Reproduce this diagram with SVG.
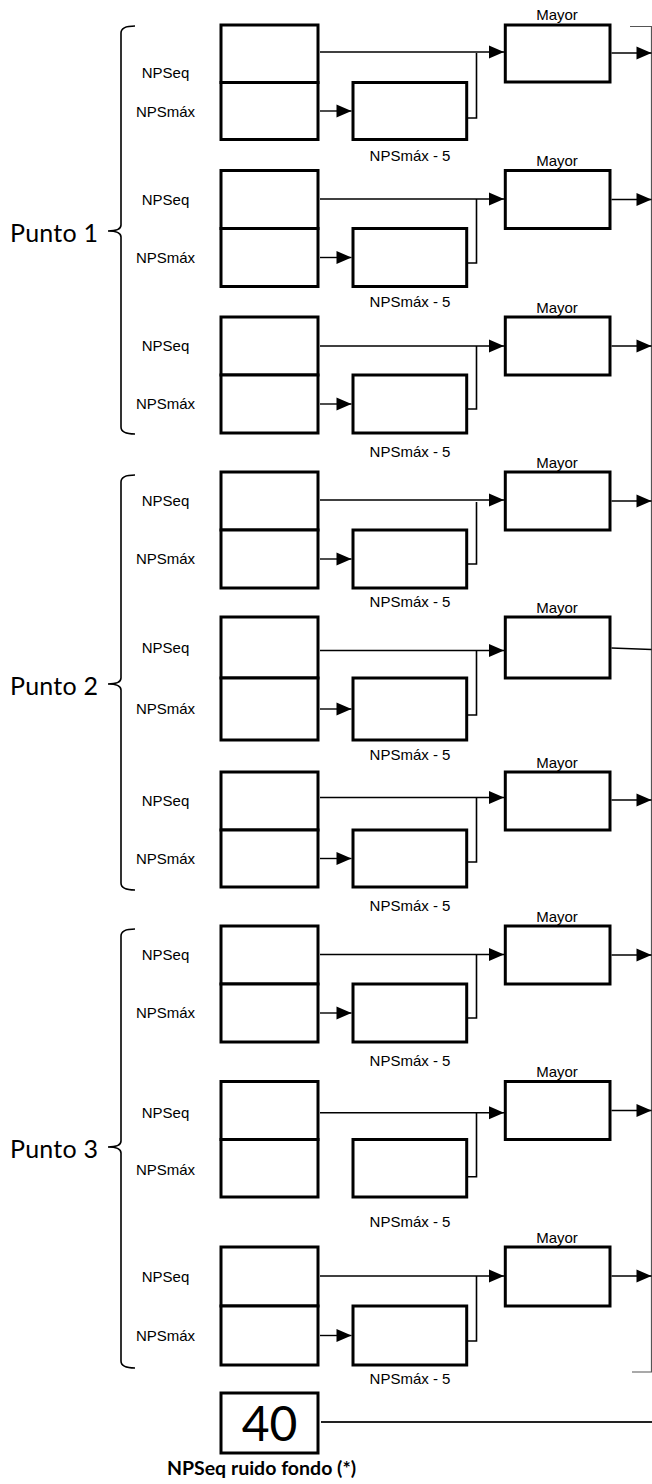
<svg xmlns="http://www.w3.org/2000/svg" width="652" height="1484" viewBox="0 0 652 1484">
<style>
.box{fill:#fff;stroke:#000;stroke-width:3}
.ln{fill:none;stroke:#000;stroke-width:1.4}
.cn{fill:none;stroke:#000;stroke-width:1.6}
.br{fill:none;stroke:#000;stroke-width:1.6}
.lb{font-family:"Liberation Sans",Arial,sans-serif;font-size:15px;fill:#000}
.c{text-anchor:middle}
.pt{font-family:Lato,"Open Sans",sans-serif;font-size:25px;fill:#000}
</style>
<defs>
<marker id="ah" markerUnits="userSpaceOnUse" markerWidth="15" markerHeight="13" refX="15" refY="6.5" orient="auto" overflow="visible">
<path d="M0,0 L15,6.5 L0,13 Z" fill="#000"/>
</marker>
</defs>
<rect width="652" height="1484" fill="#fff"/>

<g id="braces">
<path class="br" d="M135,26 Q121,26 121,33 V225 Q121,231 108,231 Q121,231 121,237 V427 Q121,434 135,434"/>
<path class="br" d="M135,475 Q121,475 121,482 V678 Q121,684 108,684 Q121,684 121,690 V883 Q121,890 135,890"/>
<path class="br" d="M135,929 Q121,929 121,936 V1141 Q121,1147 108,1147 Q121,1147 121,1153 V1361 Q121,1368 135,1368"/>
<path d="M630,26.5 H651.5 V1372 H632" fill="none" stroke="#555" stroke-width="1.2"/>
</g>
<g id="puntos">
<text class="pt" x="10" y="242" textLength="88">Punto 1</text>
<text class="pt" x="10" y="695" textLength="88">Punto 2</text>
<text class="pt" x="10" y="1158" textLength="88">Punto 3</text>
</g>

<!-- Unit 1 -->
<g id="u1-eq"><rect class="box" x="221" y="25" width="97" height="57.5"/><text class="lb c" x="165.5" y="78.3">NPSeq</text></g>
<g id="u1-max"><rect class="box" x="221" y="82.5" width="97" height="57"/><text class="lb c" x="165.5" y="117.3">NPSmáx</text></g>
<g id="u1-max5"><rect class="box" x="353" y="82.5" width="113.7" height="57"/><text class="lb c" x="410" y="161">NPSmáx - 5</text></g>
<g id="u1-mayor"><rect class="box" x="505.3" y="25" width="104.7" height="57"/><text class="lb c" x="557" y="19.5">Mayor</text></g>

<!-- Unit 2 -->
<g id="u2-eq"><rect class="box" x="221" y="170.5" width="97" height="58"/><text class="lb c" x="165.5" y="205">NPSeq</text></g>
<g id="u2-max"><rect class="box" x="221" y="228.5" width="97" height="58"/><text class="lb c" x="165.5" y="263">NPSmáx</text></g>
<g id="u2-max5"><rect class="box" x="353" y="228.5" width="113.7" height="58"/><text class="lb c" x="410" y="307">NPSmáx - 5</text></g>
<g id="u2-mayor"><rect class="box" x="505.3" y="170.5" width="104.7" height="58"/><text class="lb c" x="557" y="166">Mayor</text></g>

<!-- Unit 3 -->
<g id="u3-eq"><rect class="box" x="221" y="317" width="97" height="58"/><text class="lb c" x="165.5" y="351.4">NPSeq</text></g>
<g id="u3-max"><rect class="box" x="221" y="375" width="97" height="58"/><text class="lb c" x="165.5" y="409.4">NPSmáx</text></g>
<g id="u3-max5"><rect class="box" x="353" y="375" width="113.7" height="58"/><text class="lb c" x="410" y="457">NPSmáx - 5</text></g>
<g id="u3-mayor"><rect class="box" x="505.3" y="317" width="104.7" height="58"/><text class="lb c" x="557" y="312.5">Mayor</text></g>

<!-- Unit 4 -->
<g id="u4-eq"><rect class="box" x="221" y="472" width="97" height="58"/><text class="lb c" x="165.5" y="506.4">NPSeq</text></g>
<g id="u4-max"><rect class="box" x="221" y="530" width="97" height="58"/><text class="lb c" x="165.5" y="564.4">NPSmáx</text></g>
<g id="u4-max5"><rect class="box" x="353" y="530" width="113.7" height="58"/><text class="lb c" x="410" y="607">NPSmáx - 5</text></g>
<g id="u4-mayor"><rect class="box" x="505.3" y="472" width="104.7" height="58"/><text class="lb c" x="557" y="467.5">Mayor</text></g>

<!-- Unit 5 -->
<g id="u5-eq"><rect class="box" x="221" y="617" width="97" height="61"/><text class="lb c" x="165.5" y="653">NPSeq</text></g>
<g id="u5-max"><rect class="box" x="221" y="678" width="97" height="62"/><text class="lb c" x="165.5" y="714.4">NPSmáx</text></g>
<g id="u5-max5"><rect class="box" x="353" y="678" width="113.7" height="62"/><text class="lb c" x="410" y="760">NPSmáx - 5</text></g>
<g id="u5-mayor"><rect class="box" x="505.3" y="617" width="104.7" height="61"/><text class="lb c" x="557" y="612.5">Mayor</text></g>

<!-- Unit 6 -->
<g id="u6-eq"><rect class="box" x="221" y="772" width="97" height="58"/><text class="lb c" x="165.5" y="806.4">NPSeq</text></g>
<g id="u6-max"><rect class="box" x="221" y="830" width="97" height="57"/><text class="lb c" x="165.5" y="863.9">NPSmáx</text></g>
<g id="u6-max5"><rect class="box" x="353" y="830" width="113.7" height="57"/><text class="lb c" x="410" y="911">NPSmáx - 5</text></g>
<g id="u6-mayor"><rect class="box" x="505.3" y="772" width="104.7" height="58"/><text class="lb c" x="557" y="767.5">Mayor</text></g>

<!-- Unit 7 -->
<g id="u7-eq"><rect class="box" x="221" y="926" width="97" height="58"/><text class="lb c" x="165.5" y="960.4">NPSeq</text></g>
<g id="u7-max"><rect class="box" x="221" y="984" width="97" height="58"/><text class="lb c" x="165.5" y="1018.4">NPSmáx</text></g>
<g id="u7-max5"><rect class="box" x="353" y="984" width="113.7" height="58"/><text class="lb c" x="410" y="1066">NPSmáx - 5</text></g>
<g id="u7-mayor"><rect class="box" x="505.3" y="926" width="104.7" height="58"/><text class="lb c" x="557" y="921.5">Mayor</text></g>

<!-- Unit 8 -->
<g id="u8-eq"><rect class="box" x="221" y="1081.5" width="97" height="58"/><text class="lb c" x="165.5" y="1117.5">NPSeq</text></g>
<g id="u8-max"><rect class="box" x="221" y="1139.5" width="97" height="57.5"/><text class="lb c" x="165.5" y="1175">NPSmáx</text></g>
<g id="u8-max5"><rect class="box" x="353" y="1139.5" width="113.7" height="57.5"/><text class="lb c" x="410" y="1227">NPSmáx - 5</text></g>
<g id="u8-mayor"><rect class="box" x="505.3" y="1081.5" width="104.7" height="58"/><text class="lb c" x="557" y="1077">Mayor</text></g>

<!-- Unit 9 -->
<g id="u9-eq"><rect class="box" x="221" y="1247" width="97" height="59"/><text class="lb c" x="165.5" y="1281.9">NPSeq</text></g>
<g id="u9-max"><rect class="box" x="221" y="1306" width="97" height="59"/><text class="lb c" x="165.5" y="1340.9">NPSmáx</text></g>
<g id="u9-max5"><rect class="box" x="353" y="1306" width="113.7" height="59"/><text class="lb c" x="410" y="1384">NPSmáx - 5</text></g>
<g id="u9-mayor"><rect class="box" x="505.3" y="1247" width="104.7" height="59"/><text class="lb c" x="557" y="1242.5">Mayor</text></g>

<!-- Background noise -->
<g id="ruido">
<rect class="box" x="221" y="1393" width="97" height="60"/>
<text x="269.5" y="1441" text-anchor="middle" font-family="Lato,'Open Sans',sans-serif" font-size="48">40</text>
<text x="261.5" y="1475" text-anchor="middle" font-family="Lato,'Open Sans',sans-serif" font-size="19.5" font-weight="bold">NPSeq ruido fondo (*)</text>
</g>

<g id="connectors">
<!-- U1 -->
<path class="ln" d="M320,52 H504" marker-end="url(#ah)"/>
<path class="ln" d="M320,111 H351.5" marker-end="url(#ah)"/>
<path class="cn" d="M466.7,118 H476.5 V53"/>
<path class="ln" d="M611.5,53 H651.5" marker-end="url(#ah)"/>
<!-- U2 -->
<path class="ln" d="M320,199 H504" marker-end="url(#ah)"/>
<path class="ln" d="M320,257.5 H351.5" marker-end="url(#ah)"/>
<path class="cn" d="M466.7,263 H476.5 V199"/>
<path class="ln" d="M611.5,199.5 H651.5" marker-end="url(#ah)"/>
<!-- U3 -->
<path class="ln" d="M320,346 H504" marker-end="url(#ah)"/>
<path class="ln" d="M320,404 H351.5" marker-end="url(#ah)"/>
<path class="cn" d="M466.7,409 H476.5 V346"/>
<path class="ln" d="M611.5,346 H651.5" marker-end="url(#ah)"/>
<!-- U4 -->
<path class="ln" d="M320,500 H504" marker-end="url(#ah)"/>
<path class="ln" d="M320,559 H351.5" marker-end="url(#ah)"/>
<path class="cn" d="M466.7,564 H476.5 V502"/>
<path class="ln" d="M611.5,501 H651.5" marker-end="url(#ah)"/>
<!-- U5 -->
<path class="ln" d="M320,650.5 H504" marker-end="url(#ah)"/>
<path class="ln" d="M320,709 H351.5" marker-end="url(#ah)"/>
<path class="cn" d="M466.7,715 H476.5 V650.5"/>
<path class="ln" d="M611.5,648 L651.5,649.5"/>
<!-- U6 -->
<path class="ln" d="M320,797.5 H504" marker-end="url(#ah)"/>
<path class="ln" d="M320,858.5 H351.5" marker-end="url(#ah)"/>
<path class="cn" d="M466.7,862 H476.5 V797.5"/>
<path class="ln" d="M611.5,800 H651.5" marker-end="url(#ah)"/>
<!-- U7 -->
<path class="ln" d="M320,954.5 H504" marker-end="url(#ah)"/>
<path class="ln" d="M320,1013 H351.5" marker-end="url(#ah)"/>
<path class="cn" d="M466.7,1018 H476.5 V954.5"/>
<path class="ln" d="M611.5,955 H651.5" marker-end="url(#ah)"/>
<!-- U8 -->
<path class="ln" d="M320,1112.7 H504" marker-end="url(#ah)"/>
<path class="cn" d="M466.7,1176.7 H476.5 V1112.7"/>
<path class="ln" d="M611.5,1110.5 H651.5" marker-end="url(#ah)"/>
<!-- U9 -->
<path class="ln" d="M320,1276 H504" marker-end="url(#ah)"/>
<path class="ln" d="M320,1335.5 H351.5" marker-end="url(#ah)"/>
<path class="cn" d="M466.7,1341 H476.5 V1276"/>
<path class="ln" d="M611.5,1276 H651.5" marker-end="url(#ah)"/>
<!-- ruido -->
<path d="M321,1422 H652" fill="none" stroke="#222" stroke-width="2"/>
</g>
</svg>
